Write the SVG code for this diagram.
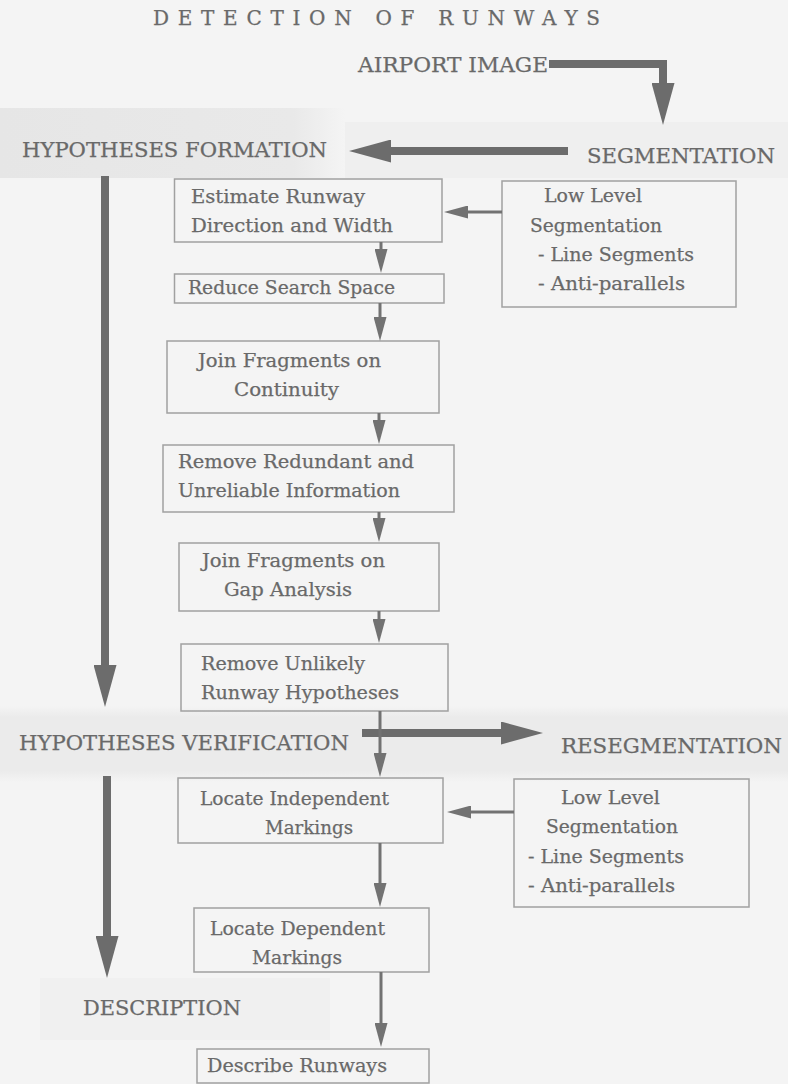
<svg xmlns="http://www.w3.org/2000/svg" width="788" height="1084" viewBox="0 0 788 1084">
<defs>
<style>
text{font-family:"DejaVu Serif","Liberation Serif",serif;fill:#696969;stroke:#696969;stroke-width:0.25}
.h{font-size:20.5px}
.b{font-size:18.5px}
.box{fill:none;stroke:#a0a0a0;stroke-width:1.5}
.thin{stroke:#727272;stroke-width:3;fill:none}
.thick{stroke:#6c6c6c;stroke-width:8;fill:none}
</style>
<marker id="th" markerUnits="userSpaceOnUse" markerWidth="24" markerHeight="13" refX="1" refY="6.5" orient="auto"><path d="M0,0 L24,6.5 L0,13 z" fill="#727272"/></marker>
<marker id="bh" markerUnits="userSpaceOnUse" markerWidth="42" markerHeight="23" refX="1" refY="11.5" orient="auto"><path d="M0,0 L42,11.5 L0,23 z" fill="#6c6c6c"/></marker>
<linearGradient id="fadeR" x1="0" x2="1" y1="0" y2="0"><stop offset="0" stop-color="#e6e6e6"/><stop offset="0.85" stop-color="#e9e9e9"/><stop offset="1" stop-color="#e9e9e9" stop-opacity="0"/></linearGradient>
<linearGradient id="fadeV" x1="0" x2="0" y1="0" y2="1"><stop offset="0" stop-color="#ebebeb" stop-opacity="0"/><stop offset="0.15" stop-color="#ebebeb"/><stop offset="0.85" stop-color="#ebebeb"/><stop offset="1" stop-color="#ebebeb" stop-opacity="0"/></linearGradient>
</defs>
<rect width="788" height="1084" fill="#f4f4f4"/>
<g id="bands">
<rect x="0" y="108" width="345" height="70" fill="url(#fadeR)"/>
<rect x="345" y="122" width="443" height="56" fill="#efefef"/>
<rect x="0" y="706" width="788" height="76" fill="url(#fadeV)"/>
<rect x="40" y="978" width="290" height="62" fill="#f0f0f0"/>
</g>
<g id="title"><text x="153" y="25" style="font-size:20px" textLength="447" lengthAdjust="spacing">DETECTION OF RUNWAYS</text></g>
<g id="airport-image"><text class="h" x="358" y="72" textLength="190" lengthAdjust="spacingAndGlyphs">AIRPORT IMAGE</text></g>
<g id="segmentation"><text class="h" x="587" y="163" textLength="188" lengthAdjust="spacingAndGlyphs">SEGMENTATION</text></g>
<g id="hypotheses-formation"><text class="h" x="22" y="157" textLength="305" lengthAdjust="spacingAndGlyphs">HYPOTHESES FORMATION</text></g>
<g id="hypotheses-verification"><text class="h" x="19" y="750" textLength="330" lengthAdjust="spacingAndGlyphs">HYPOTHESES VERIFICATION</text></g>
<g id="resegmentation"><text class="h" x="561" y="753" textLength="221" lengthAdjust="spacingAndGlyphs">RESEGMENTATION</text></g>
<g id="description"><text class="h" x="83" y="1015" textLength="158" lengthAdjust="spacingAndGlyphs">DESCRIPTION</text></g>

<g id="estimate"><rect class="box" x="174.5" y="179" width="267.5" height="63"/>
<text class="b" x="191" y="203" textLength="174" lengthAdjust="spacingAndGlyphs">Estimate Runway</text>
<text class="b" x="191" y="232" textLength="202" lengthAdjust="spacingAndGlyphs">Direction and Width</text></g>
<g id="lowlevel1"><rect class="box" x="502" y="181" width="234" height="126"/>
<text class="b" x="544" y="202" textLength="98" lengthAdjust="spacingAndGlyphs">Low Level</text>
<text class="b" x="530" y="232" textLength="132" lengthAdjust="spacingAndGlyphs">Segmentation</text>
<text class="b" x="538" y="261" textLength="156" lengthAdjust="spacingAndGlyphs">- Line Segments</text>
<text class="b" x="538" y="290" textLength="147" lengthAdjust="spacingAndGlyphs">- Anti-parallels</text></g>
<g id="reduce"><rect class="box" x="174.5" y="274" width="269.5" height="29"/>
<text class="b" x="188" y="294" textLength="207" lengthAdjust="spacingAndGlyphs">Reduce Search Space</text></g>
<g id="join-continuity"><rect class="box" x="167" y="341" width="272" height="72"/>
<text class="b" x="198" y="367" textLength="183" lengthAdjust="spacingAndGlyphs">Join Fragments on</text>
<text class="b" x="234" y="396" textLength="105" lengthAdjust="spacingAndGlyphs">Continuity</text></g>
<g id="remove-redundant"><rect class="box" x="163" y="445" width="291" height="67"/>
<text class="b" x="178" y="468" textLength="236" lengthAdjust="spacingAndGlyphs">Remove Redundant and</text>
<text class="b" x="178" y="497" textLength="222" lengthAdjust="spacingAndGlyphs">Unreliable Information</text></g>
<g id="join-gap"><rect class="box" x="179" y="543" width="260" height="68"/>
<text class="b" x="202" y="567" textLength="183" lengthAdjust="spacingAndGlyphs">Join Fragments on</text>
<text class="b" x="224" y="596" textLength="128" lengthAdjust="spacingAndGlyphs">Gap Analysis</text></g>
<g id="remove-unlikely"><rect class="box" x="181" y="644" width="267" height="67"/>
<text class="b" x="201" y="670" textLength="164" lengthAdjust="spacingAndGlyphs">Remove Unlikely</text>
<text class="b" x="201" y="699" textLength="198" lengthAdjust="spacingAndGlyphs">Runway Hypotheses</text></g>
<g id="locate-independent"><rect class="box" x="178" y="778" width="265" height="65"/>
<text class="b" x="200" y="805" textLength="189" lengthAdjust="spacingAndGlyphs">Locate Independent</text>
<text class="b" x="265" y="834" textLength="88" lengthAdjust="spacingAndGlyphs">Markings</text></g>
<g id="lowlevel2"><rect class="box" x="514" y="779" width="235" height="128"/>
<text class="b" x="561" y="804" textLength="99" lengthAdjust="spacingAndGlyphs">Low Level</text>
<text class="b" x="546" y="833" textLength="132" lengthAdjust="spacingAndGlyphs">Segmentation</text>
<text class="b" x="528" y="863" textLength="156" lengthAdjust="spacingAndGlyphs">- Line Segments</text>
<text class="b" x="528" y="892" textLength="147" lengthAdjust="spacingAndGlyphs">- Anti-parallels</text></g>
<g id="locate-dependent"><rect class="box" x="194" y="908" width="235" height="64"/>
<text class="b" x="210" y="935" textLength="175" lengthAdjust="spacingAndGlyphs">Locate Dependent</text>
<text class="b" x="252" y="964" textLength="90" lengthAdjust="spacingAndGlyphs">Markings</text></g>
<g id="describe"><rect class="box" x="197" y="1049" width="232" height="34"/>
<text class="b" x="207" y="1072" textLength="180" lengthAdjust="spacingAndGlyphs">Describe Runways</text></g>

<g id="connectors">
<path class="thick" d="M549,64 H663 V84" stroke-width="7" marker-end="url(#bh)"/>
<line class="thick" x1="568" y1="151" x2="390" y2="151" marker-end="url(#bh)"/>
<line class="thick" x1="105" y1="176" x2="105" y2="666" marker-end="url(#bh)"/>
<line class="thick" x1="362" y1="733" x2="502" y2="733" marker-end="url(#bh)"/>
<line class="thick" x1="107" y1="776" x2="107" y2="937" marker-end="url(#bh)"/>
<line class="thin" x1="502" y1="212" x2="467" y2="212" marker-end="url(#th)"/>
<line class="thin" x1="381" y1="242" x2="381" y2="250" marker-end="url(#th)"/>
<line class="thin" x1="380" y1="303" x2="380" y2="318" marker-end="url(#th)"/>
<line class="thin" x1="379" y1="413" x2="379" y2="421" marker-end="url(#th)"/>
<line class="thin" x1="379" y1="512" x2="379" y2="519" marker-end="url(#th)"/>
<line class="thin" x1="379" y1="611" x2="379" y2="620" marker-end="url(#th)"/>
<line class="thin" x1="380" y1="711" x2="380" y2="754" marker-end="url(#th)"/>
<line class="thin" x1="514" y1="812" x2="470" y2="812" marker-end="url(#th)"/>
<line class="thin" x1="380" y1="843" x2="380" y2="884" marker-end="url(#th)"/>
<line class="thin" x1="381" y1="972" x2="381" y2="1024" marker-end="url(#th)"/>
</g>
</svg>
